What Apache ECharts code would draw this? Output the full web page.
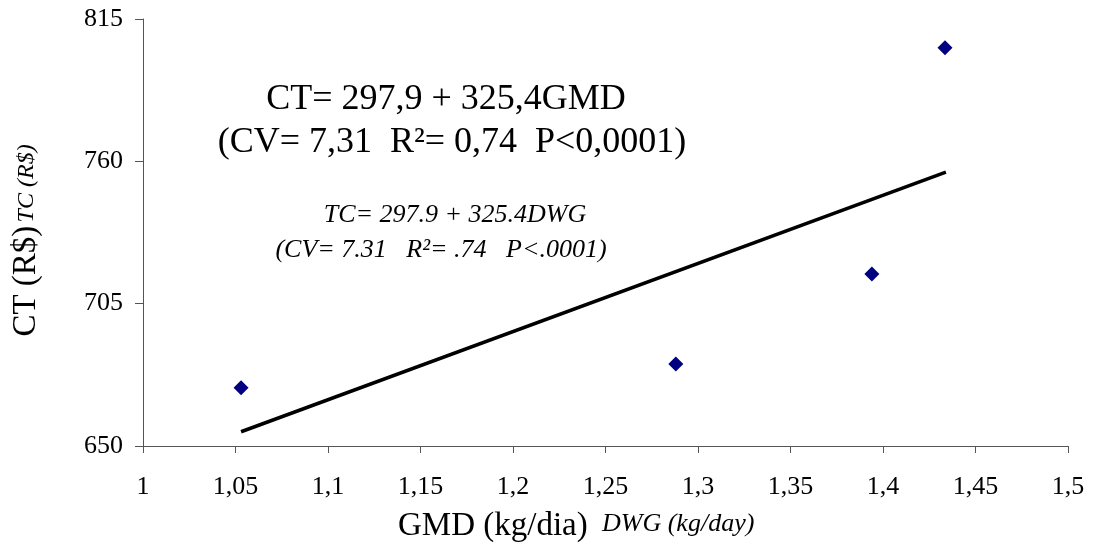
<!DOCTYPE html>
<html>
<head>
<meta charset="utf-8">
<script src="https://cdn.jsdelivr.net/npm/echarts@6/dist/echarts.min.js"></script>
<style>
  html, body { margin: 0; padding: 0; background: #fff; }
  #main { width: 1097px; height: 547px; }
</style>
</head>
<body>
<div id="main"></div>
<script>
// dados
var gmd = [1.053, 1.288, 1.394, 1.4335];
var ct = [672.5, 681.7, 716.5, 803.9];
// reta de regressão (extremos desenhados)
var lineX = [1.053, 1.434];
var lineY = [655.5, 755.8];
var yTicks = [650, 705, 760, 815];

var serif = '"Liberation Serif", "Times New Roman", serif';

var myChart = echarts.init(document.getElementById('main'));

var option = {
    backgroundColor: '#fff',
    animation: false,
    grid: { left: 143, right: 29, top: 19, bottom: 101 },
    xAxis: {
        type: 'value',
        min: 1,
        max: 1.5,
        interval: 0.05,
        axisLine: { lineStyle: { color: '#555', width: 1 } },
        axisTick: { show: true, length: 7, lineStyle: { color: '#555' } },
        splitLine: { show: false },
        axisLabel: {
            margin: 28,
            color: '#000',
            fontFamily: serif,
            fontSize: 26,
            formatter: function (v) { return String(+v.toFixed(2)).replace('.', ','); }
        }
    },
    yAxis: {
        type: 'value',
        min: yTicks[0],
        max: yTicks[yTicks.length - 1],
        interval: 55,
        axisLine: { show: true, lineStyle: { color: '#555', width: 1 } },
        axisTick: { show: true, length: 8, lineStyle: { color: '#555' } },
        splitLine: { show: false },
        axisLabel: {
            margin: 20,
            color: '#000',
            fontFamily: serif,
            fontSize: 26
        },
        name: '{a|CT (R$)} {b|TC (R$)}',
        nameLocation: 'middle',
        nameRotate: 90,
        nameGap: 100,
        nameTextStyle: {
            padding: [0, 16, 0, 0],
            rich: {
                a: { fontFamily: serif, fontSize: 33, color: '#000' },
                b: { fontFamily: serif, fontSize: 24, fontStyle: 'italic', color: '#000' }
            }
        }
    },
    graphic: [
        {
            type: 'text', x: 398, y: 526,
            style: { text: 'GMD (kg/dia)', font: '33px ' + serif, fill: '#000', verticalAlign: 'middle' }
        },
        {
            type: 'text', x: 602, y: 524,
            style: { text: 'DWG (kg/day)', font: 'italic 26px ' + serif, fill: '#000', verticalAlign: 'middle' }
        },
        {
            type: 'text', x: 446, y: 100,
            style: { text: 'CT= 297,9 + 325,4GMD', font: '36px ' + serif, fill: '#000', align: 'center', verticalAlign: 'middle' }
        },
        {
            type: 'text', x: 452, y: 143,
            style: { text: '(CV= 7,31  R²= 0,74  P<0,0001)', font: '36px ' + serif, fill: '#000', align: 'center', verticalAlign: 'middle' }
        },
        {
            type: 'text', x: 455, y: 215,
            style: { text: 'TC= 297.9 + 325.4DWG', font: 'italic 26px ' + serif, fill: '#000', align: 'center', verticalAlign: 'middle' }
        },
        {
            type: 'text', x: 441, y: 250,
            style: { text: '(CV= 7.31   R²= .74   P<.0001)', font: 'italic 26px ' + serif, fill: '#000', align: 'center', verticalAlign: 'middle' }
        }
    ],
    series: [
        {
            name: 'reta',
            type: 'line',
            data: lineX.map(function (x, i) { return [x, lineY[i]]; }),
            symbol: 'none',
            lineStyle: { color: '#000', width: 3.5 },
            z: 2
        },
        {
            name: 'CT',
            type: 'scatter',
            data: gmd.map(function (x, i) { return [x, ct[i]]; }),
            symbol: 'diamond',
            symbolSize: [15, 15],
            itemStyle: { color: '#000080', opacity: 1 },
            z: 3
        }
    ]
};

myChart.setOption(option);
</script>
</body>
</html>
